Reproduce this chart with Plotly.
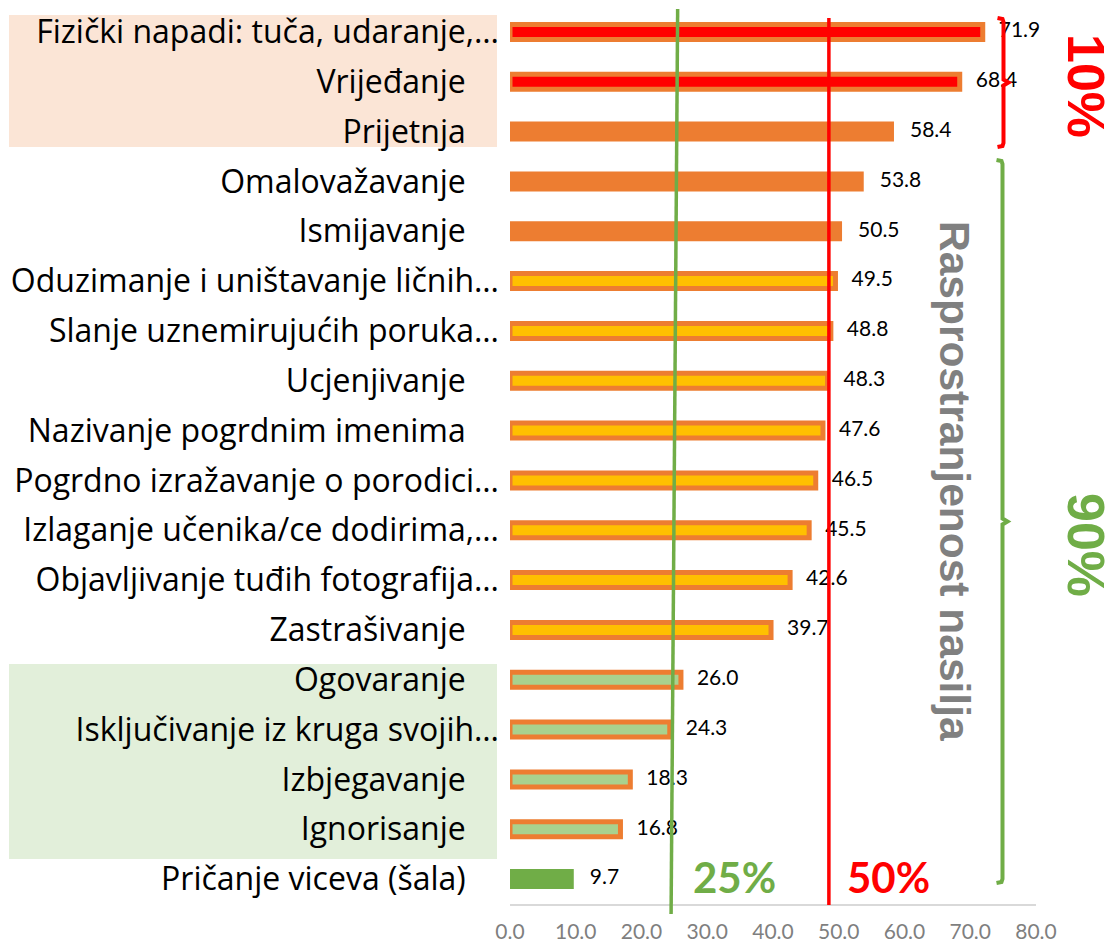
import plotly.graph_objects as go

# ---------------- data ----------------
categories = [
    "Fizički napadi: tuča, udaranje,…",
    "Vrijeđanje",
    "Prijetnja",
    "Omalovažavanje",
    "Ismijavanje",
    "Oduzimanje i uništavanje ličnih…",
    "Slanje uznemirujućih poruka…",
    "Ucjenjivanje",
    "Nazivanje pogrdnim imenima",
    "Pogrdno izražavanje o porodici…",
    "Izlaganje učenika/ce dodirima,…",
    "Objavljivanje tuđih fotografija…",
    "Zastrašivanje",
    "Ogovaranje",
    "Isključivanje iz kruga svojih…",
    "Izbjegavanje",
    "Ignorisanje",
    "Pričanje viceva (šala)",
]
values = [71.9, 68.4, 58.4, 53.8, 50.5, 49.5, 48.8, 48.3, 47.6, 46.5,
          45.5, 42.6, 39.7, 26.0, 24.3, 18.3, 16.8, 9.7]
x_ticks = [0, 10, 20, 30, 40, 50, 60, 70, 80]
threshold_25 = (25.5, 24.5)   # slanted green reference line (top, bottom)
threshold_50 = 48.5
share_labels = ["10%", "90%"]

# ---------------- styling ----------------
W, H = 1116, 945
ML, MR, MT, MB = 510, 80, 7, 41
PW, PH = W - ML - MR, H - MT - MB

def px(x):
    return (x - ML) / PW

def py(y):
    return (H - MB - y) / PH

ORANGE = "#ED7D31"
RED = "#FF0000"
YELLOW = "#FFC000"
LGREEN = "#A9D18E"
GREEN = "#70AD47"
inner = [RED] * 2 + [ORANGE] * 3 + [YELLOW] * 8 + [LGREEN] * 4 + [GREEN]
outlined = [True] * 2 + [False] * 3 + [True] * 12 + [False]

display = []
for c in categories:
    if c.endswith("…"):
        display.append(c)
    else:
        display.append(c + "\u00a0" * 4)

FONT = "Lato"
LABEL_FONT = "Open Sans"

fig = go.Figure()

oi = [i for i in range(len(values)) if outlined[i]]
si = [i for i in range(len(values)) if not outlined[i]]

fig.add_trace(go.Bar(
    y=[categories[i] for i in si], x=[values[i] for i in si],
    orientation="h", width=0.40,
    marker=dict(color=[inner[i] for i in si], line=dict(width=0)),
    hoverinfo="x+y", showlegend=False,
))
fig.add_trace(go.Bar(
    y=[categories[i] for i in oi], x=[values[i] for i in oi],
    orientation="h", width=0.30,
    marker=dict(color=[inner[i] for i in oi], line=dict(color=ORANGE, width=5)),
    hoverinfo="x+y", showlegend=False,
))
fig.add_trace(go.Scatter(
    y=categories, x=values, mode="markers+text",
    text=[f"{v:.1f}" for v in values], textposition="middle right",
    marker=dict(size=24, color="rgba(0,0,0,0)"),
    textfont=dict(family=FONT, size=21, color="#000000"),
    hoverinfo="skip", showlegend=False, cliponaxis=False,
))

shapes = []
# shaded label backgrounds
shapes.append(dict(type="rect", xref="paper", yref="paper", layer="below",
                   x0=px(9), x1=px(497), y0=py(15), y1=py(147),
                   fillcolor="#FBE5D6", line=dict(width=0)))
shapes.append(dict(type="rect", xref="paper", yref="paper", layer="below",
                   x0=px(9), x1=px(497), y0=py(664), y1=py(859),
                   fillcolor="#E2EFDA", line=dict(width=0)))
# reference lines
shapes.append(dict(type="line", xref="x", yref="paper", layer="above",
                   x0=threshold_25[0], x1=threshold_25[1], y0=py(9), y1=py(914),
                   line=dict(color=GREEN, width=3.5)))
shapes.append(dict(type="line", xref="x", yref="paper", layer="above",
                   x0=threshold_50, x1=threshold_50, y0=py(18), y1=py(905),
                   line=dict(color=RED, width=3.5)))

def bracket(xc, ytop, ybot, color):
    ym = (ytop + ybot) / 2
    hook = 6
    tip = 5
    pts = [
        (xc - hook, ytop), (xc - 1, ytop + 1), (xc, ytop + 4),
        (xc, ym - 3), (xc + tip, ym), (xc, ym + 3),
        (xc, ybot - 4), (xc - 1, ybot - 1), (xc - hook, ybot),
    ]
    path = "M " + " L ".join(f"{px(a):.5f},{py(b):.5f}" for a, b in pts)
    return dict(type="path", xref="paper", yref="paper", layer="above", path=path,
                line=dict(color=color, width=4), fillcolor="rgba(0,0,0,0)")

shapes.append(bracket(1003.5, 18, 147, RED))
shapes.append(bracket(1002.5, 160, 883, GREEN))

def note(text, x, y, size, color, family, angle=0, pad=1):
    return dict(text=text, x=px(x), y=py(y), xref="paper", yref="paper",
                xanchor="center", yanchor="middle", showarrow=False, borderpad=pad,
                textangle=angle, font=dict(family=family, size=size, color=color))

annotations = [
    note("<b>Rasprostranjenost nasilja</b>", 955, 481, 42.5, "#808080", "Liberation Sans", 90),
    note(f"<b>{share_labels[0]}</b>", 1086, 86, 52, RED, "Liberation Sans", 90, 0),
    note(f"<b>{share_labels[1]}</b>", 1086, 545, 52, GREEN, "Liberation Sans", 90, 0),
    note("<b>25%</b>", 734, 877, 42, GREEN, FONT),
    note("<b>50%</b>", 888, 877, 42, RED, FONT),
]

fig.update_layout(
    width=W, height=H,
    margin=dict(l=ML, r=MR, t=MT, b=MB, pad=0, autoexpand=False),
    paper_bgcolor="white", plot_bgcolor="white",
    barmode="overlay",
    shapes=shapes, annotations=annotations,
    xaxis=dict(range=[0, 80], tickvals=x_ticks, tickformat=".1f",
               tickfont=dict(family=FONT, size=21, color="#7F7F7F"),
               showgrid=False, zeroline=False, showline=True,
               linecolor="#D9D9D9", linewidth=2, ticks="",
               ticklabelstandoff=8, fixedrange=True, automargin=False),
    yaxis=dict(type="category", categoryorder="array", categoryarray=categories,
               range=[len(categories) - 0.5, -0.5], autorange=False,
               tickvals=categories, ticktext=display,
               tickfont=dict(family=LABEL_FONT, size=32, color="#000000"),
               showgrid=False, zeroline=False, showline=False, ticks="",
               ticklabelstandoff=10, fixedrange=True, automargin=False),
)

fig.write_html("out.html", config={"displayModeBar": False},
               post_script="document.body.style.margin='0px';")
